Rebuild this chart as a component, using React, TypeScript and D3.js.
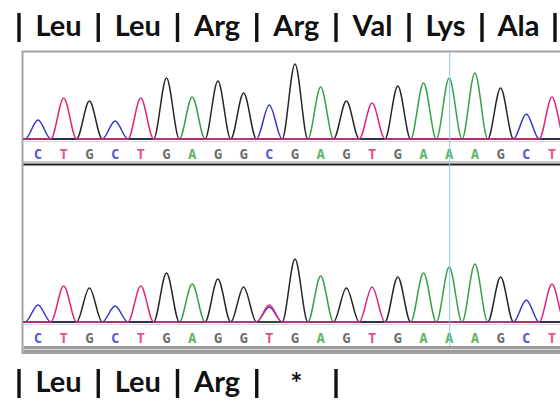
import React from 'react';
import * as d3 from 'd3';

// called bases + peak heights (arbitrary signal units)
const topBases = ['C', 'T', 'G', 'C', 'T', 'G', 'A', 'G', 'G', 'C', 'G', 'A', 'G', 'T', 'G', 'A', 'A', 'A', 'G', 'C', 'T'];
const topHeights = [19, 41, 38, 18, 41, 61, 42, 58, 46, 34, 75, 52, 38, 36, 53, 56, 61, 66, 51, 25, 42];
const bottomBases = ['C', 'T', 'G', 'C', 'T', 'G', 'A', 'G', 'G', 'T', 'G', 'A', 'G', 'T', 'G', 'A', 'A', 'A', 'G', 'C', 'T'];
const bottomHeights = [17, 36, 34, 16, 36, 49, 38, 43, 35, 17, 63, 46, 34, 35, 45, 49, 55, 58, 45, 22, 38];
// secondary (overlapping) peaks
const bottomMixed = [{ index: 9, base: 'C', height: 15 }];

const topCodons = ['Leu', 'Leu', 'Arg', 'Arg', 'Val', 'Lys', 'Ala'];
const bottomCodons = ['Leu', 'Leu', 'Arg', '*'];
const cursorIndex = 16;

const channels = ['A', 'C', 'G', 'T'];
const traceColor: Record<string, string> = { A: '#36a043', C: '#3535cc', G: '#262626', T: '#e0267c' };
const letterColor: Record<string, string> = { A: '#5bb562', C: '#5b5bd8', G: '#6e6e6e', T: '#e8508e' };

type Mixed = { index: number; base: string; height: number };

const x = d3.scaleLinear().domain([0, 20]).range([38, 552]);
// separator bars of the codon rows (text laid out like the original slide)
const bar = d3.scaleLinear().domain([0, 4, 7]).range([19, 336, 555]);

const CodonRow: React.FC<{ codons: string[]; baseline: number }> = ({ codons, baseline }) => (
  <g>
    {d3.range(codons.length + 1).map(k => (
      <line key={'b' + k} x1={bar(k)} x2={bar(k)} y1={baseline - 23} y2={baseline + 6}
        stroke="#111" strokeWidth={3.4} />
    ))}
    {codons.map((c, k) => (
      <text key={k} x={(bar(k) + bar(k + 1)) / 2} y={c === '*' ? baseline + 1 : baseline}
        textAnchor="middle" fontFamily="Lato, 'Open Sans', sans-serif" fontWeight="bold"
        fontSize={29} fill="#111">
        {c}
      </text>
    ))}
  </g>
);

const Panel: React.FC<{ bases: string[]; heights: number[]; mixed: Mixed[]; baseline: number; letterY: number }> = ({
  bases, heights, mixed, baseline, letterY,
}) => {
  const y = d3.scaleLinear().domain([0, 80]).range([baseline, baseline - 80]);
  const n = bases.length;
  const line = d3.line<[number, number]>()
    .x(d => x(d[0]))
    .y(d => y(d[1]))
    .curve(d3.curveMonotoneX);

  return (
    <g>
      {channels.map(ch => {
        const pts: [number, number][] = [[-1.5, 0]];
        for (let i = 0; i < n; i++) {
          const m = mixed.find(d => d.index === i && d.base === ch);
          const h = bases[i] === ch ? heights[i] : m ? m.height : 0;
          pts.push([i - 0.5, 0], [i, h]);
        }
        pts.push([n - 0.5, 0], [n + 1, 0]);
        return (
          <path key={ch} d={line(pts) || ''} fill="none" stroke={traceColor[ch]} strokeWidth={1.5} />
        );
      })}
      {bases.map((b, i) => (
        <text key={i} x={x(i)} y={letterY} textAnchor="middle" fill={letterColor[b]}
          fontFamily="'DejaVu Sans Mono', monospace" fontWeight="bold" fontSize={14}>
          {b}
        </text>
      ))}
    </g>
  );
};

export default function App() {
  const left = 22.5;
  const top = 51.5;
  const bottom = 353;
  return (
    <svg width={560} height={400} style={{ position: 'absolute', left: 0, top: 0, background: '#fff' }}>
      <defs>
        <clipPath id="frame">
          <rect x={left + 1} y={top + 1} width={560} height={bottom - top - 2} />
        </clipPath>
      </defs>

      <CodonRow codons={topCodons} baseline={36} />

      <rect x={left} y={top} width={600} height={bottom - top} fill="#fff" stroke="#a3a3a3" strokeWidth={2} />

      <g clipPath="url(#frame)">
        <line x1={left} x2={560} y1={141.5} y2={141.5} stroke="#d6d6d6" />
        <line x1={left} x2={560} y1={162} y2={162} stroke="#9a9a9a" />
        <line x1={left} x2={560} y1={164.5} y2={164.5} stroke="#222" strokeWidth={2} />
        <line x1={left} x2={560} y1={324.5} y2={324.5} stroke="#d6d6d6" />
        <rect x={left} y={346} width={560} height={7} fill="#9c9c9c" />
        <line x1={left} x2={560} y1={349.5} y2={349.5} stroke="#dcdcdc" />

        <Panel bases={topBases} heights={topHeights} mixed={[]} baseline={139} letterY={158.5} />
        <Panel bases={bottomBases} heights={bottomHeights} mixed={bottomMixed} baseline={322} letterY={343} />

        <line x1={x(cursorIndex) + 0.5} x2={x(cursorIndex) + 0.5} y1={top} y2={346}
          stroke="#86cbeb" strokeWidth={1} />
      </g>

      <CodonRow codons={bottomCodons} baseline={392} />
    </svg>
  );
}
